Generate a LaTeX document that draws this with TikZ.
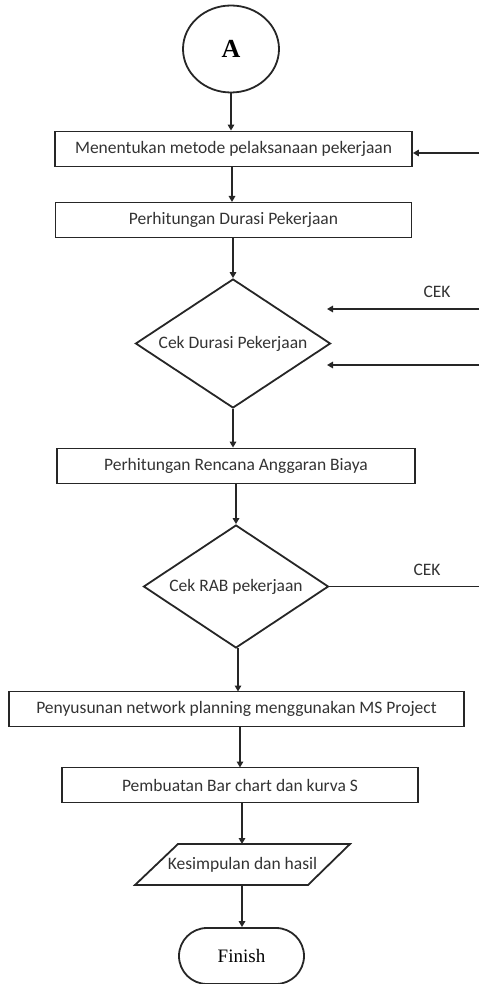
\documentclass[tikz,border=0pt]{standalone}
\usepackage{fontspec}
\setmainfont{Carlito}
\newfontfamily\serifA{Liberation Serif}
\usetikzlibrary{arrows.meta,shapes.geometric}
\begin{document}
\begin{tikzpicture}[x=1pt,y=-1pt,
  every node/.style={font=\fontsize{17.5}{19}\selectfont, text=black!80},
  ln/.style={line width=1.8pt, draw=black!85},
  arr/.style={ln, -{Triangle[length=6pt,width=6.5pt]}},
  box/.style={ln, rectangle, inner sep=0pt, minimum height=35pt},
  dia/.style={ln, diamond, inner sep=0pt}]
\useasboundingbox (0,0) rectangle (479,984);
% start
\node[ln, ellipse, minimum width=96pt, minimum height=87pt, inner sep=0pt,
  font=\serifA\bfseries\fontsize{26}{28}\selectfont, text=black] (A) at (231,49) {A};
% process boxes
\node[box, minimum width=357pt] (b1) at (233.5,149) {Menentukan metode pelaksanaan pekerjaan};
\node[box, minimum width=356pt] (b2) at (233.5,220) {Perhitungan Durasi Pekerjaan};
\node[dia, minimum width=195pt, minimum height=129pt] (d1) at (233,343.5) {};
\node (d1t) at (d1) {Cek Durasi Pekerjaan};
\node[box, minimum width=358pt] (b3) at (236,466) {Perhitungan Rencana Anggaran Biaya};
\node[dia, minimum width=185pt, minimum height=123pt] (d2) at (236,586.5) {};
\node (d2t) at (d2) {Cek RAB pekerjaan};
\node[box, minimum width=455pt] (b4) at (236.5,709) {Penyusunan network planning menggunakan MS Project};
\node[box, minimum width=356pt] (b5) at (240,785) {Pembuatan Bar chart dan kurva S};
% parallelogram
\coordinate (pTL) at (178,844);
\coordinate (pTR) at (350,844);
\coordinate (pBR) at (308,885);
\coordinate (pBL) at (135,885);
\draw[ln, line join=miter] (pTL) -- (pTR) -- (pBR) -- (pBL) -- cycle;
\node (para) at (242.5,864.5) {Kesimpulan dan hasil};
\coordinate (paraTop) at (242,844);
\coordinate (paraBot) at (242,885);
% terminator
\node[ln, rectangle, rounded corners=28pt, minimum width=125pt, minimum height=56pt,
  inner sep=0pt, font=\serifA\fontsize{19}{21}\selectfont, text=black] (fin) at (241.5,956) {Finish};
% vertical connectors
\draw[arr] (A.south) -- (A.south |- b1.north);
\draw[arr] (232,166.5) -- (232,202) coordinate (b2top);
\draw[arr] (b2.south -| d1.north) -- (d1.north);
\draw[arr] (d1.south) -- (d1.south |- b3.north);
\draw[arr] (b3.south -| d2.north) -- (d2.north);
\draw[arr] (238,648) -- (238,691.5);
\draw[arr] (240,726.5) -- (240,767.5);
\draw[arr] (b5.south -| paraTop) -- (paraTop);
\draw[arr] (paraBot) -- (paraBot |- fin.north);
% right-side connectors
\coordinate (r1) at (479,153);
\draw[arr] (r1) -- (r1 -| b1.east);
\coordinate (r2) at (479,309);
\coordinate (r2e) at (327,309);
\draw[arr] (r2) -- (r2e);
\node (cek1) at (437,292) {CEK};
\coordinate (r3) at (479,365);
\coordinate (r3e) at (327,365);
\draw[arr] (r3) -- (r3e);
\coordinate (r4) at (479,586.5);
\draw[ln] (d2.east) -- (r4);
\node (cek2) at (427,570) {CEK};
\end{tikzpicture}
\end{document}
